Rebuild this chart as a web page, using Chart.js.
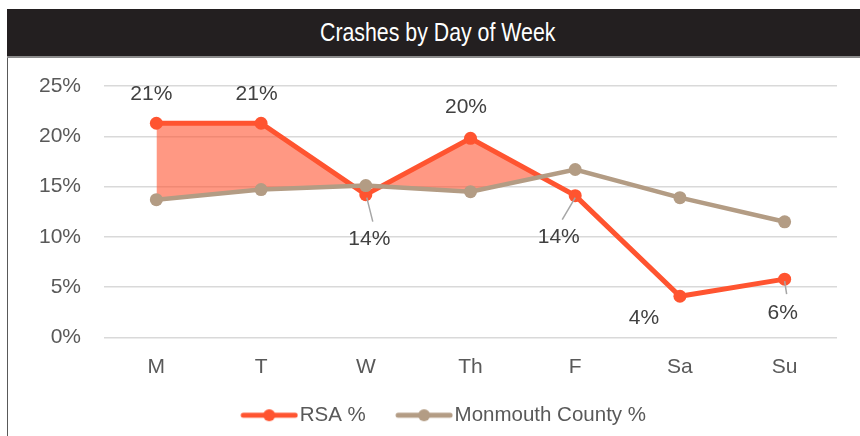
<!DOCTYPE html>
<html>
<head>
<meta charset="utf-8">
<script src="https://cdn.jsdelivr.net/npm/chart.js@4/dist/chart.umd.min.js"></script>
<style>
html,body{margin:0;padding:0;background:#fff;width:860px;height:436px;overflow:hidden;position:relative;}
#bar{position:absolute;left:7px;top:9px;width:853px;height:47px;background:#231F20;border-bottom:2px solid #8c8c8c;}
#bar span{position:absolute;left:300px;top:0;color:#fff;white-space:nowrap;
  font:26px "Liberation Sans",Arial,sans-serif;line-height:47px;transform:scaleX(0.82);transform-origin:0 50%;}
#frame{position:absolute;left:7px;top:58px;width:1px;height:378px;background:#595959;}
#c{position:absolute;left:8px;top:57px;}
</style>
</head>
<body>
<div id="bar"><span id="ttl">Crashes by Day of Week</span></div>
<div id="frame"></div>
<canvas id="c" width="852" height="379"></canvas>
<script>
// ---- data ----
const categories = ['M', 'T', 'W', 'Th', 'F', 'Sa', 'Su'];
const rsaPct = [21.3, 21.3, 14.2, 19.8, 14.1, 4.1, 5.8];
const monmouthPct = [13.7, 14.7, 15.1, 14.5, 16.7, 13.9, 11.5];
const seriesNames = ['RSA %', 'Monmouth County %'];
const yTickValues = [0, 5, 10, 15, 20, 25];

// ---- styles ----
const FONT = '"Liberation Sans", Arial, sans-serif';
const RSA_COLOR = '#FF5430';
const MON_COLOR = '#B39C84';
const FILL_COLOR = 'rgba(255,84,48,0.6)';

// centre the (horizontally condensed) title text at x=438 of the page
(function () {
  const s = document.getElementById('ttl');
  const w = s.offsetWidth;
  s.style.left = (431 - (w * 0.82) / 2) + 'px';
})();

function legendImg(color) {
  const c = document.createElement('canvas');
  c.width = 86; c.height = 14;
  const g = c.getContext('2d');
  g.strokeStyle = color; g.lineWidth = 5; g.lineCap = 'round';
  g.beginPath(); g.moveTo(31, 7); g.lineTo(83, 7); g.stroke();
  g.fillStyle = color;
  g.beginPath(); g.arc(57, 7, 6, 0, Math.PI * 2); g.fill();
  return c;
}

const labelPlugin = {
  id: 'rsaLabels',
  afterDatasetsDraw(chart, args, opts) {
    const meta = chart.getDatasetMeta(0);
    const ctx = chart.ctx;
    ctx.save();
    ctx.font = '21px ' + FONT;
    ctx.textAlign = 'center';
    ctx.textBaseline = 'middle';
    meta.data.forEach((pt, i) => {
      const v = chart.data.datasets[0].data[i];
      const off = opts.offsets[i];
      const ld = opts.leaders[i];
      if (ld) {
        ctx.strokeStyle = '#a6a6a6';
        ctx.lineWidth = 1.5;
        ctx.beginPath();
        ctx.moveTo(pt.x + ld[0], pt.y + ld[1]);
        ctx.lineTo(pt.x + ld[2], pt.y + ld[3]);
        ctx.stroke();
      }
      ctx.fillStyle = '#404040';
      ctx.fillText(Math.round(v) + '%', pt.x + off[0], pt.y + off[1]);
    });
    ctx.restore();
  }
};

Chart.defaults.font.family = FONT;

new Chart(document.getElementById('c'), {
  type: 'line',
  data: {
    labels: categories,
    datasets: [
      {
        label: seriesNames[0],
        data: rsaPct,
        borderColor: RSA_COLOR,
        backgroundColor: RSA_COLOR,
        borderWidth: 5,
        pointRadius: 6.5,
        pointBackgroundColor: RSA_COLOR,
        pointBorderWidth: 0,
        fill: { target: 1, above: FILL_COLOR, below: 'rgba(0,0,0,0)' },
        tension: 0,
        order: 1
      },
      {
        label: seriesNames[1],
        data: monmouthPct,
        borderColor: MON_COLOR,
        backgroundColor: MON_COLOR,
        borderWidth: 4.5,
        pointRadius: 6.5,
        pointBackgroundColor: MON_COLOR,
        pointBorderWidth: 0,
        fill: false,
        tension: 0,
        order: 0
      }
    ]
  },
  options: {
    responsive: false,
    animation: false,
    events: [],
    layout: { padding: { left: 22, right: 23, top: 29, bottom: 0.5 } },
    scales: {
      x: {
        offset: true,
        grid: { display: false, drawTicks: false },
        border: { display: false },
        ticks: { color: '#595959', font: { size: 21 }, padding: 17 },
        afterFit(s) { s.height = 57.5; }
      },
      y: {
        min: 0, max: 25,
        grid: { color: '#d9d9d9', lineWidth: 1.5, drawTicks: true, tickLength: 23, tickColor: 'rgba(0,0,0,0)' },
        border: { display: false },
        ticks: { color: '#595959', font: { size: 21 }, padding: 0, callback: v => v + '%' },
        afterBuildTicks(s) { s.ticks = yTickValues.map(v => ({ value: v })); },
        afterFit(s) { s.width = 74; }
      }
    },
    plugins: {
      title: { display: false },
      tooltip: { enabled: false },
      legend: {
        position: 'bottom',
        labels: {
          usePointStyle: true,
          pointStyleWidth: 68.5,
          padding: 10,
          color: '#595959',
          font: { size: 20.5 },
          generateLabels(chart) {
            return chart.data.datasets.map((ds, i) => ({
              text: ds.label,
              pointStyle: legendImg(ds.borderColor),
              fillStyle: ds.borderColor,
              strokeStyle: ds.borderColor,
              lineWidth: 0,
              hidden: false,
              fontColor: '#595959',
              datasetIndex: i
            }));
          }
        }
      },
      rsaLabels: {
        offsets: [[-5, -29], [-4.5, -29], [3.5, 45], [-4.5, -31.5], [-16.5, 41.5], [-36, 22], [-2, 34]],
        leaders: [null, null, [1, 3, 7, 27], null, [0, 2, -13, 24], null, [0, 2, 2, 15]]
      }
    }
  },
  plugins: [labelPlugin]
});
</script>
</body>
</html>
